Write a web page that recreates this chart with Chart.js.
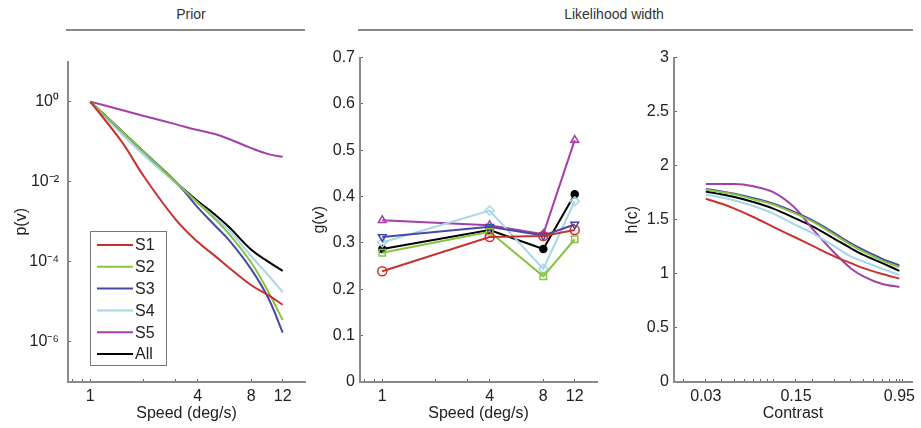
<!DOCTYPE html>
<html>
<head>
<meta charset="utf-8">
<script src="https://cdn.jsdelivr.net/npm/chart.js@4.4.1/dist/chart.umd.min.js"></script>
<style>
body{margin:0;background:#fff;width:921px;height:428px;position:relative;overflow:hidden;font-family:"Liberation Sans",Arial,sans-serif;color:#222}
.head{position:absolute;top:6px;font-size:14px;text-align:center;color:#333}
.rule{position:absolute;top:29px;height:2px;background:#8a8a8a}
canvas{position:absolute;top:40px}
</style>
</head>
<body>
<div class="head" style="left:66px;width:250px">Prior</div>
<div class="rule" style="left:66px;width:239px"></div>
<div class="head" style="left:414px;width:400px">Likelihood width</div>
<div class="rule" style="left:358px;width:555px"></div>
<canvas id="prior" width="318" height="388" style="left:0px"></canvas>
<canvas id="gwidth" width="308" height="388" style="left:300px"></canvas>
<canvas id="hwidth" width="313" height="388" style="left:608px"></canvas>
<script>
// series names and colours
let names = ['S1', 'S2', 'S3', 'S4', 'S5', 'All'];
let colors = ['#c8322e', '#86c440', '#4848a8', '#a6d6e8', '#a53fa8', '#000000'];

// prior p(v)
let priorSpeeds = [1, 1.5, 2, 3, 4, 5, 6, 8, 10, 12];
let priorS1 = [1, 0.1, 0.0135, 1.17e-3, 3.16e-4, 1.41e-4, 7.1e-5, 2.6e-5, 1.45e-5, 8.5e-6];
let priorS2 = [1, 0.186, 0.055, 0.01, 3.0e-3, 1.17e-3, 5.0e-4, 9.5e-5, 1.74e-5, 3.5e-6];
let priorS3 = [1, 0.186, 0.055, 0.0102, 2.3e-3, 8.1e-4, 3.5e-4, 6.5e-5, 1.2e-5, 1.7e-6];
let priorS4 = [1, 0.155, 0.046, 9.3e-3, 3.0e-3, 1.29e-3, 6.2e-4, 1.38e-4, 4.5e-5, 1.74e-5];
let priorS5 = [1, 0.62, 0.44, 0.275, 0.195, 0.155, 0.117, 0.069, 0.049, 0.042];
let priorAll = [1, 0.186, 0.055, 0.01, 3.3e-3, 1.51e-3, 7.4e-4, 2.0e-4, 1.0e-4, 5.9e-5];
let priorYTicks = [1, 1e-2, 1e-4, 1e-6];
let priorYLabels = ['10⁰', '10⁻²', '10⁻⁴', '10⁻⁶'];

// likelihood width g(v)
let gSpeeds = [1, 4, 8, 12];
let gS1 = [0.239, 0.313, 0.315, 0.328];
let gS2 = [0.279, 0.324, 0.228, 0.308];
let gS3 = [0.313, 0.335, 0.316, 0.340];
let gS4 = [0.301, 0.370, 0.244, 0.390];
let gS5 = [0.349, 0.338, 0.319, 0.522];
let gAll = [0.287, 0.328, 0.287, 0.405];
let speedTicks = [0.8, 0.9, 1, 2, 3, 4, 8, 12];
let speedLabels = [1, 4, 8, 12];
let markers = ['circle', 'rect', 'triangle', 'rectRot', 'triangle', 'circle'];
let markerRot = [0, 0, 180, 0, 0, 0];

// likelihood width h(c)
let contrasts = [0.03, 0.04, 0.05, 0.07, 0.1, 0.15, 0.2, 0.3, 0.4, 0.5, 0.7, 0.95];
let hS1 = [1.694, 1.648, 1.603, 1.526, 1.435, 1.334, 1.261, 1.16, 1.099, 1.053, 0.998, 0.956];
let hS2 = [1.78, 1.755, 1.735, 1.69, 1.64, 1.555, 1.485, 1.36, 1.268, 1.205, 1.123, 1.062];
let hS3 = [1.786, 1.761, 1.74, 1.70, 1.648, 1.566, 1.496, 1.374, 1.282, 1.221, 1.139, 1.078];
let hS4 = [1.734, 1.706, 1.679, 1.627, 1.557, 1.45, 1.38, 1.252, 1.16, 1.114, 1.047, 0.988];
let hS5 = [1.83, 1.83, 1.83, 1.81, 1.755, 1.60, 1.42, 1.19, 1.05, 0.977, 0.907, 0.879];
let hAll = [1.761, 1.734, 1.71, 1.664, 1.603, 1.511, 1.441, 1.322, 1.236, 1.175, 1.099, 1.028];
let contrastTicks = [0.02, 0.03, 0.04, 0.05, 0.06, 0.07, 0.08, 0.09, 0.1, 0.15, 0.2, 0.3, 0.4, 0.5, 0.6, 0.7, 0.8, 0.9, 0.95, 1];
let contrastLabels = [0.03, 0.15, 0.95];

const FONT = {family: '"Liberation Sans", Arial, sans-serif', size: 16};
const TXT = '#222';
const AXIS = '#8a8a8a';

function pts(xs, ys) {
    return xs.map((x, i) => ({x: x, y: ys[i]}));
}

function axisBase(extra) {
    let base = {
        border: {display: true, color: AXIS, width: 2},
        grid: {drawOnChartArea: false, drawTicks: true, tickLength: -3, color: '#666', lineWidth: 1},
        ticks: {color: TXT, font: FONT, autoSkip: false, maxRotation: 0, minRotation: 0},
        title: {display: true, color: TXT, font: FONT}
    };
    for (let k in extra) {
        if (typeof extra[k] === 'object' && base[k]) Object.assign(base[k], extra[k]);
        else base[k] = extra[k];
    }
    return base;
}

function fixTicks(list) {
    return function (scale) {
        scale.ticks = list.map(v => ({value: v}));
    };
}

// legend box inside the prior panel
const legendBox = {
    id: 'legendBox',
    afterDraw(chart) {
        const ctx = chart.ctx, area = chart.chartArea;
        const x0 = area.left + 22, w = 76, h = 134;
        const y0 = area.bottom - 17 - h;
        ctx.save();
        ctx.fillStyle = '#fff';
        ctx.fillRect(x0, y0, w, h);
        ctx.strokeStyle = '#777';
        ctx.lineWidth = 1;
        ctx.strokeRect(x0 + 0.5, y0 + 0.5, w, h);
        ctx.font = '16px "Liberation Sans", Arial, sans-serif';
        ctx.textBaseline = 'middle';
        chart.data.datasets.forEach((ds, i) => {
            const y = y0 + 14 + i * 21.8;
            ctx.strokeStyle = ds.borderColor;
            ctx.lineWidth = 2;
            ctx.beginPath();
            ctx.moveTo(x0 + 7, y);
            ctx.lineTo(x0 + 43, y);
            ctx.stroke();
            ctx.fillStyle = TXT;
            ctx.fillText(ds.label, x0 + 45, y + 1);
        });
        ctx.restore();
    }
};

Chart.defaults.font.family = FONT.family;

// panel 1 : prior
let priorSets = [priorS1, priorS2, priorS3, priorS4, priorS5, priorAll].map((d, i) => ({
    label: names[i],
    data: pts(priorSpeeds, d),
    borderColor: colors[i],
    borderWidth: 2,
    pointRadius: 0,
    tension: 0.4,
    fill: false
}));

new Chart(document.getElementById('prior'), {
    type: 'line',
    data: {datasets: priorSets},
    options: {
        responsive: false, animation: false,
        layout: {padding: {top: 13, right: 13, left: 0, bottom: 0}},
        plugins: {legend: {display: false}, tooltip: {enabled: false}},
        scales: {
            x: axisBase({
                type: 'logarithmic', min: 0.75, max: 16, position: 'bottom',
                afterBuildTicks: fixTicks(speedTicks),
                afterFit: s => { s.height = 46; },
                ticks: {padding: 8, callback: v => speedLabels.includes(v) ? String(v) : ''},
                title: {text: 'Speed (deg/s)', padding: {top: 0, bottom: 5}}
            }),
            y: axisBase({
                type: 'logarithmic', min: 1e-7, max: 10, position: 'left',
                afterBuildTicks: fixTicks(priorYTicks),
                afterFit: s => { s.width = 68; },
                ticks: {padding: 12, callback: v => {
                    let i = priorYTicks.findIndex(t => Math.abs(Math.log10(t) - Math.log10(v)) < 1e-6);
                    return i >= 0 ? priorYLabels[i] : '';
                }},
                title: {text: 'p(v)', padding: {top: 12, bottom: 0}}
            })
        }
    },
    plugins: [legendBox]
});

// panel 2 : g(v)
let gSets = [gS1, gS2, gS3, gS4, gS5, gAll].map((d, i) => ({
    label: names[i],
    data: pts(gSpeeds, d),
    borderColor: colors[i],
    backgroundColor: i === 5 ? '#000' : 'rgba(0,0,0,0)',
    borderWidth: 2,
    pointStyle: markers[i],
    pointRotation: markerRot[i],
    pointRadius: i === 5 ? 3.5 : 4.5,
    pointBorderWidth: 1.5,
    tension: 0,
    fill: false
}));

new Chart(document.getElementById('gwidth'), {
    type: 'line',
    data: {datasets: gSets},
    options: {
        responsive: false, animation: false,
        layout: {padding: {top: 14, right: 11, left: 0, bottom: 0}},
        plugins: {legend: {display: false}, tooltip: {enabled: false}},
        scales: {
            x: axisBase({
                type: 'logarithmic', min: 0.75, max: 16, position: 'bottom',
                afterBuildTicks: fixTicks(speedTicks),
                afterFit: s => { s.height = 46; },
                ticks: {padding: 8, callback: v => speedLabels.includes(v) ? String(v) : ''},
                title: {text: 'Speed (deg/s)', padding: {top: 0, bottom: 5}}
            }),
            y: axisBase({
                type: 'linear', min: 0, max: 0.7, position: 'left',
                afterFit: s => { s.width = 60; },
                ticks: {padding: 8, stepSize: 0.1, callback: v => String(Math.round(v * 10) / 10)},
                title: {text: 'g(v)', padding: {top: 10, bottom: 0}}
            })
        }
    }
});

// panel 3 : h(c)
let hSets = [hS1, hS2, hS3, hS4, hS5, hAll].map((d, i) => ({
    label: names[i],
    data: pts(contrasts, d),
    borderColor: colors[i],
    borderWidth: 2,
    pointRadius: 0,
    cubicInterpolationMode: 'monotone',
    fill: false
}));

new Chart(document.getElementById('hwidth'), {
    type: 'line',
    data: {datasets: hSets},
    options: {
        responsive: false, animation: false,
        layout: {padding: {top: 14, right: 9, left: 0, bottom: 0}},
        plugins: {legend: {display: false}, tooltip: {enabled: false}},
        scales: {
            x: axisBase({
                type: 'logarithmic', min: 0.017, max: 1.19, position: 'bottom',
                afterBuildTicks: fixTicks(contrastTicks),
                afterFit: s => { s.height = 46; },
                ticks: {padding: 8, callback: v => contrastLabels.includes(v) ? String(v) : ''},
                title: {text: 'Contrast', padding: {top: 0, bottom: 5}}
            }),
            y: axisBase({
                type: 'linear', min: 0, max: 3, position: 'left',
                afterFit: s => { s.width = 66; },
                ticks: {padding: 8, stepSize: 0.5, callback: v => String(v)},
                title: {text: 'h(c)', padding: {top: 15, bottom: 0}}
            })
        }
    }
});
</script>
</body>
</html>
